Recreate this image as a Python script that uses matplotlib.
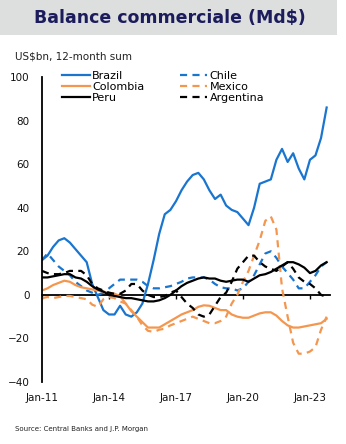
import matplotlib
matplotlib.use("Agg")
import matplotlib.pyplot as plt
import matplotlib.dates as mdates
import matplotlib.patches as mpatches
import pandas as pd

# quarterly points, Jan-11 .. Oct-23 (US$bn, 12-month sum)
dates = pd.date_range("2011-01-01", periods=52, freq="QS")

brazil = [16, 18, 22, 25, 26, 24, 21, 18, 15, 5,
          -1, -7, -9, -9, -5, -9, -10, -8, -4, 5,
          16, 28, 37, 39, 43, 48, 52, 55, 56, 53,
          48, 44, 46, 41, 39, 38, 35, 32, 40, 51,
          52, 53, 62, 67, 61, 65, 58, 53, 62, 64,
          72, 86]
chile = [16, 19, 16, 13, 11, 9, 6, 4, 2, 1,
         0, 1, 3, 5, 7, 7, 7, 7, 6, 4,
         3, 3, 3.5, 4, 5, 6, 7.5, 8, 8, 8,
         7, 5, 3.5, 3, 3, 2, 3, 6, 9, 14,
         19, 20, 17, 13, 10, 7, 3, 3, 6, 9,
         13, 15]
colombia = [2, 3, 4.5, 5.5, 6.5, 6, 4.5, 3.5, 3, 2.5,
            2, 1.5, 1, 0.5, -0.5, -4, -7.5, -10, -12.5, -15,
            -15, -15, -13.5, -12, -10.5, -9, -8, -7, -5.5, -4.8,
            -5, -6, -7, -7, -9, -10, -10.5, -10.5, -9.5, -8.5,
            -8, -8, -9.5, -12, -14, -15, -15, -14.5, -14, -13.5,
            -13, -11]
mexico = [-1.5, -1, -1.5, -1, -0.5, -0.5, -1, -1.5, -2, -4.5,
          -5.5, -2, -1, -1.5, -3, -4, -7, -10, -14, -16.5,
          -17, -16, -15.5, -14, -13, -12, -11, -10, -11, -12,
          -13, -13, -12, -10, -4, 0, 6, 11, 18, 25,
          34, 36, 30, 3, -10, -22, -27, -27, -26, -24,
          -16, -10]
peru = [8, 8, 8.5, 9, 9.5, 9.5, 8, 7.5, 6, 4,
        2.5, 1.5, 0, -0.5, -1, -1.5, -1.5, -2, -2.5, -3,
        -3, -2.5, -1.5, 0, 2, 4, 5.5, 6.5, 7.5, 8,
        7.5, 7.5, 6.5, 6, 6.5, 7, 7, 6, 7.5, 9,
        9.5, 10.5, 12, 13.5, 15, 15, 14, 12.5, 10, 11,
        13.5, 15]
argentina = [11, 10, 9.5, 9.5, 10, 11, 11, 11, 9, 5,
             3, 2, 1, 0.5, 0.5, 2, 5, 5, 2, 0,
             -1, -1, -0.5, 1, 2, -1, -4, -6, -9, -10,
             -9, -5, -1, 1, 6, 12, 15, 18, 18, 15,
             13, 12, 11, 13, 15, 12, 8, 6, 5, 3,
             0, -1]

tick_dates = pd.to_datetime(["2011-01-01", "2014-01-01", "2017-01-01",
                             "2020-01-01", "2023-01-01"])
y_ticks = [-40, -20, 0, 20, 40, 60, 80, 100]

BLUE = "#1a75cf"
ORANGE = "#f5964f"
NAVY = "#1c1c5c"

plt.rcParams["font.family"] = ["DejaVu Sans"]

fig = plt.figure(figsize=(3.46, 4.44), dpi=100, facecolor="white")

# bandeau titre
fig.patches.append(mpatches.Rectangle((0, 0.921), 0.974, 0.079,
                                      transform=fig.transFigure,
                                      facecolor="#dcdfde", edgecolor="none"))
fig.text(0.491, 0.9595, "Balance commerciale (Md\\$)", ha="center", va="center",
         fontsize=12.5, fontweight="bold", color=NAVY)
fig.text(0.043, 0.872, "US\\$bn, 12-month sum", ha="left", va="center",
         fontsize=7.5, color="#222222")
fig.text(0.043, 0.034, "Source: Central Banks and J.P. Morgan", ha="left",
         va="center", fontsize=5, color="#222222")

ax = fig.add_axes([0.1214, 0.1396, 0.8324, 0.687])

lw = 1.6
dash = (0, (3.2, 2.4))
h_bra, = ax.plot(dates, brazil, color=BLUE, lw=lw, label="Brazil")
h_chl, = ax.plot(dates, chile, color=BLUE, lw=lw, ls=dash, label="Chile")
h_col, = ax.plot(dates, colombia, color=ORANGE, lw=lw, label="Colombia")
h_mex, = ax.plot(dates, mexico, color=ORANGE, lw=lw, ls=dash, label="Mexico")
h_per, = ax.plot(dates, peru, color="black", lw=lw, label="Peru")
h_arg, = ax.plot(dates, argentina, color="black", lw=lw, ls=dash, label="Argentina")

ax.set_ylim(-40, 100)
ax.set_xlim(pd.Timestamp("2011-01-01"), pd.Timestamp("2023-11-25"))
ax.set_yticks(y_ticks)
ax.set_xticks(tick_dates)
ax.xaxis.set_major_formatter(mdates.DateFormatter("%b-%y"))
ax.tick_params(axis="both", length=0, labelsize=7.5, colors="#111111")
ax.tick_params(axis="y", pad=9)
ax.tick_params(axis="x", pad=8)

for side in ["top", "right", "bottom"]:
    ax.spines[side].set_visible(False)
ax.spines["left"].set_linewidth(1.3)

# ligne du zéro avec ses graduations
zero_ax = ax.secondary_xaxis(40 / 140)
zero_ax.set_xticks(tick_dates)
zero_ax.set_xticklabels([])
zero_ax.tick_params(length=3, width=1, direction="out")
zero_ax.spines["bottom"].set_linewidth(1.3)

# légende remplie par colonnes -> ordre ligne par ligne
handles = [h_bra, h_col, h_per, h_chl, h_mex, h_arg]
ax.legend(handles=handles, loc="upper left", bbox_to_anchor=(0.069, 1.021),
          ncol=2, frameon=False, fontsize=8, handlelength=2.5,
          handletextpad=0.2, columnspacing=3.2, labelspacing=0.12,
          borderpad=0, borderaxespad=0)

fig.savefig("out.png", dpi=100, facecolor="white")
